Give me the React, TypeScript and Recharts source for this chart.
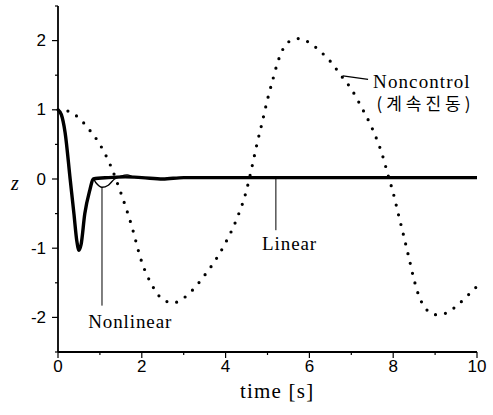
import { LineChart, Line, XAxis, YAxis, ReferenceLine, ReferenceDot } from "recharts";

// noncontrol (continuous oscillation)
const noncontrolT = [0, 0.25, 0.5, 0.75, 1, 1.25, 1.5, 1.75, 2, 2.25, 2.5, 2.75, 3, 3.25, 3.5, 3.75, 4, 4.25, 4.5, 4.62, 4.75, 4.87, 5, 5.12, 5.25, 5.5, 5.75, 6, 6.25, 6.5, 6.75, 7, 7.25, 7.5, 7.75, 7.88, 8, 8.12, 8.25, 8.38, 8.5, 8.62, 8.75, 9, 9.25, 9.5, 9.75, 10];
const noncontrolZ = [1.0, 0.98, 0.88, 0.71, 0.5, 0.2, -0.2, -0.66, -1.2, -1.54, -1.74, -1.79, -1.72, -1.58, -1.39, -1.18, -0.92, -0.6, -0.16, 0.15, 0.51, 0.81, 1.15, 1.42, 1.7, 1.98, 2.03, 1.97, 1.85, 1.7, 1.5, 1.3, 1.03, 0.73, 0.33, 0.05, -0.2, -0.5, -0.82, -1.15, -1.46, -1.7, -1.85, -1.96, -1.94, -1.84, -1.7, -1.55];

const linearT = [0, 0.08, 0.17, 0.29, 0.38, 0.45, 0.5, 0.55, 0.64, 0.76, 0.84, 1.2, 1.6, 2.0, 2.5, 3.0, 4, 10];
const linearZ = [1.0, 0.93, 0.67, 0.0, -0.5, -0.9, -1.03, -0.95, -0.5, -0.16, 0.0, 0.02, 0.03, 0.02, 0.0, 0.02, 0.02, 0.02];

const nonlinearT = [0, 0.08, 0.17, 0.29, 0.38, 0.45, 0.5, 0.55, 0.64, 0.76, 0.84, 0.9, 1.05, 1.2, 1.35, 1.5, 1.65, 1.8, 2.0, 2.5, 3.0, 10];
const nonlinearZ = [1.0, 0.93, 0.67, 0.0, -0.5, -0.9, -1.03, -0.95, -0.5, -0.16, 0.0, -0.05, -0.12, -0.09, 0.0, 0.04, 0.06, 0.03, 0.02, 0.0, 0.02, 0.02];

const xTicks = [0, 1, 2, 3, 4, 5, 6, 7, 8, 9, 10];
const yTicks = [-2.5, -2, -1.5, -1, -0.5, 0, 0.5, 1, 1.5, 2, 2.5];

const toRows = (t: number[], z: number[]) => t.map((v, i) => ({ t: v, z: z[i] }));

const tickFont = "'Liberation Sans', Arial, sans-serif";
const serif = "'Liberation Serif', 'Times New Roman', serif";

function YTick(props: any) {
  const { x, y, payload } = props;
  const v = payload.value;
  const major = Number.isInteger(v);
  return (
    <g>
      <line x1={x - (major ? 6 : 3)} x2={x} y1={y} y2={y} stroke="#000" strokeWidth={1.2} />
      {major && (
        <text x={x - 12} y={y} textAnchor="end" dominantBaseline="central" fontSize={17} fontFamily={tickFont} fill="#000">
          {v}
        </text>
      )}
    </g>
  );
}

function XTick(props: any) {
  const { x, y, payload } = props;
  const v = payload.value;
  const major = v % 2 === 0;
  return (
    <g>
      <line x1={x} x2={x} y1={y} y2={y + (major ? 6 : 3)} stroke="#000" strokeWidth={1.2} />
      {major && (
        <text x={x} y={y + 14} textAnchor="middle" dominantBaseline="central" fontSize={17} fontFamily={tickFont} fill="#000">
          {v}
        </text>
      )}
    </g>
  );
}

const textLabel = (value: string, opts: { size?: number; family?: string; spacing?: number } = {}) =>
  (props: any) => {
    const vb = props.viewBox || {};
    return (
      <text
        x={vb.x}
        y={vb.y}
        dominantBaseline="central"
        fontSize={opts.size ?? 19}
        fontFamily={opts.family ?? serif}
        letterSpacing={opts.spacing ?? 0.9}
        fill="#000"
      >
        {value}
      </text>
    );
  };

export default function App() {
  return (
    <div style={{ position: "absolute", left: 0, top: 0, background: "#fff" }}>
      <LineChart width={493} height={415} margin={{ top: 6, right: 16, bottom: 33, left: 0 }}>
        <XAxis
          type="number"
          dataKey="t"
          domain={[0, 10]}
          ticks={xTicks}
          interval={0}
          tickSize={0}
          tickMargin={0}
          tickLine={false}
          tick={<XTick />}
          axisLine={{ stroke: "#000", strokeWidth: 1.8 }}
          height={30}
          allowDuplicatedCategory={false}
        />
        <YAxis
          type="number"
          dataKey="z"
          domain={[-2.5, 2.5]}
          ticks={yTicks}
          interval={0}
          tickSize={0}
          tickMargin={0}
          tickLine={false}
          tick={<YTick />}
          axisLine={{ stroke: "#000", strokeWidth: 1.8 }}
          width={58}
        />
        <Line
          data={toRows(noncontrolT, noncontrolZ)}
          dataKey="z"
          type="monotone"
          stroke="#000"
          strokeWidth={3.2}
          strokeDasharray="0 10"
          strokeLinecap="round"
          dot={false}
          isAnimationActive={false}
        />
        <Line
          data={toRows(linearT, linearZ)}
          dataKey="z"
          type="monotone"
          stroke="#000"
          strokeWidth={3.4}
          dot={false}
          isAnimationActive={false}
        />
        <Line
          data={toRows(nonlinearT, nonlinearZ)}
          dataKey="z"
          type="monotone"
          stroke="#000"
          strokeWidth={1.4}
          dot={false}
          isAnimationActive={false}
        />
        {/* leader lines */}
        <ReferenceLine segment={[{ x: 1.05, y: -0.12 }, { x: 1.05, y: -1.83 }]} stroke="#000" strokeWidth={1} />
        <ReferenceLine segment={[{ x: 5.2, y: 0.02 }, { x: 5.2, y: -0.74 }]} stroke="#000" strokeWidth={1} />
        <ReferenceLine segment={[{ x: 6.8, y: 1.49 }, { x: 7.4, y: 1.44 }]} stroke="#000" strokeWidth={1.2} />
        {/* labels */}
        <ReferenceDot x={0.72} y={-2.06} r={0} stroke="none" fill="none" label={textLabel("Nonlinear")} />
        <ReferenceDot x={4.87} y={-0.93} r={0} stroke="none" fill="none" label={textLabel("Linear")} />
        <ReferenceDot x={7.52} y={1.41} r={0} stroke="none" fill="none" label={textLabel("Noncontrol", { spacing: 1.1 })} />
        <ReferenceDot
          x={7.6}
          y={1.1}
          r={0}
          stroke="none"
          fill="none"
          label={textLabel("(계속진동)", { size: 17, family: "'Noto Sans CJK KR', sans-serif", spacing: 4 })}
        />
      </LineChart>
      <div
        style={{
          position: "absolute",
          left: 0,
          top: 0,
          width: 493,
          height: 415,
          pointerEvents: "none",
        }}
      >
        <span style={{ position: "absolute", left: 11, top: 172, fontFamily: serif, fontStyle: "italic", fontSize: 20 }}>z</span>
        <span style={{ position: "absolute", left: 240, top: 379, fontFamily: serif, fontSize: 21, letterSpacing: 1.2 }}>time [s]</span>
      </div>
    </div>
  );
}
